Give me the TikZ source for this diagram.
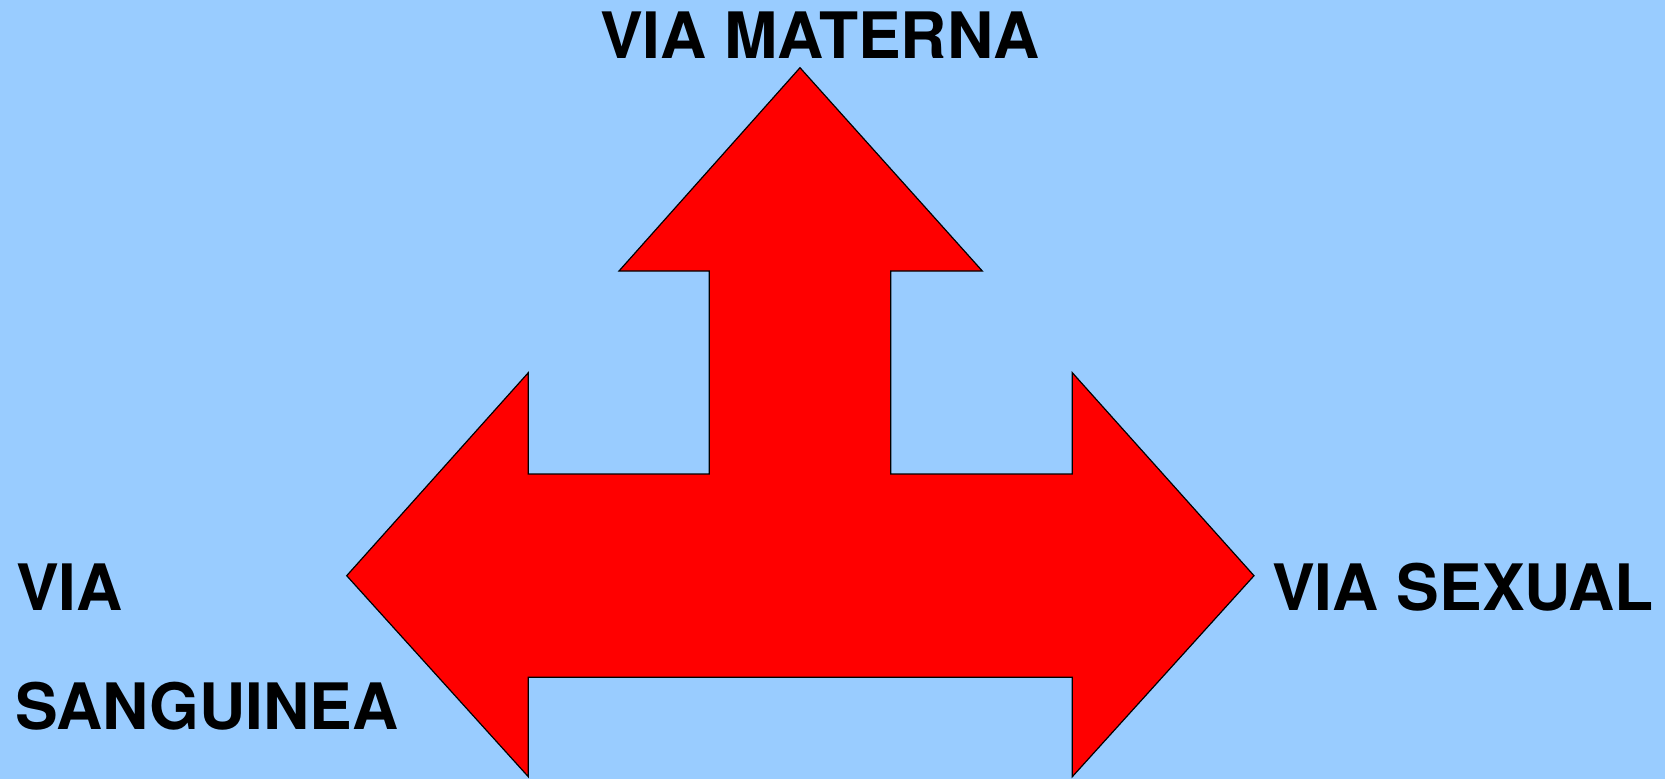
\documentclass[tikz,border=0pt]{standalone}
\usepackage{fontspec}
\setmainfont{TeX Gyre Heros}
\usepackage{tikz}
\usetikzlibrary{positioning}

\definecolor{skyblue}{HTML}{99CCFF}

\begin{document}
\begin{tikzpicture}[x=1pt,y=-1pt,
  label/.style={font=\fontsize{64}{70}\selectfont\bfseries,inner sep=0pt},
  arrowbody/.style={fill=red,draw=black,line width=1.2pt,line join=miter}]

% Background
\fill[skyblue] (0,0) rectangle (1665,779);
\useasboundingbox (0,0) rectangle (1665,779);

% Three-way arrow
\draw[arrowbody] (800,67.7) -- (982.3,271) -- (890.7,271) -- (890.7,474)
  -- (1072.3,474) -- (1072.3,372.7) -- (1254,575.7) -- (1072.3,776.7)
  -- (1072.3,677.3) -- (528.3,677.3) -- (528.3,776.7) -- (346.7,575.7)
  -- (528.3,372.7) -- (528.3,474) -- (709.3,474) -- (709.3,271)
  -- (619,271) -- cycle;

% Labels
\node[label,anchor=base west] (materna) at (600,58.3) {VIA MATERNA};
\node[label,anchor=base west] (sexual) at (1272,610.7) {VIA SEXUAL};
\node[label,anchor=base west] (via) at (16,610.7) {VIA};
\node[label,anchor=base west] (sanguinea) at (15,729) {SANGUINEA};

\end{tikzpicture}
\end{document}
